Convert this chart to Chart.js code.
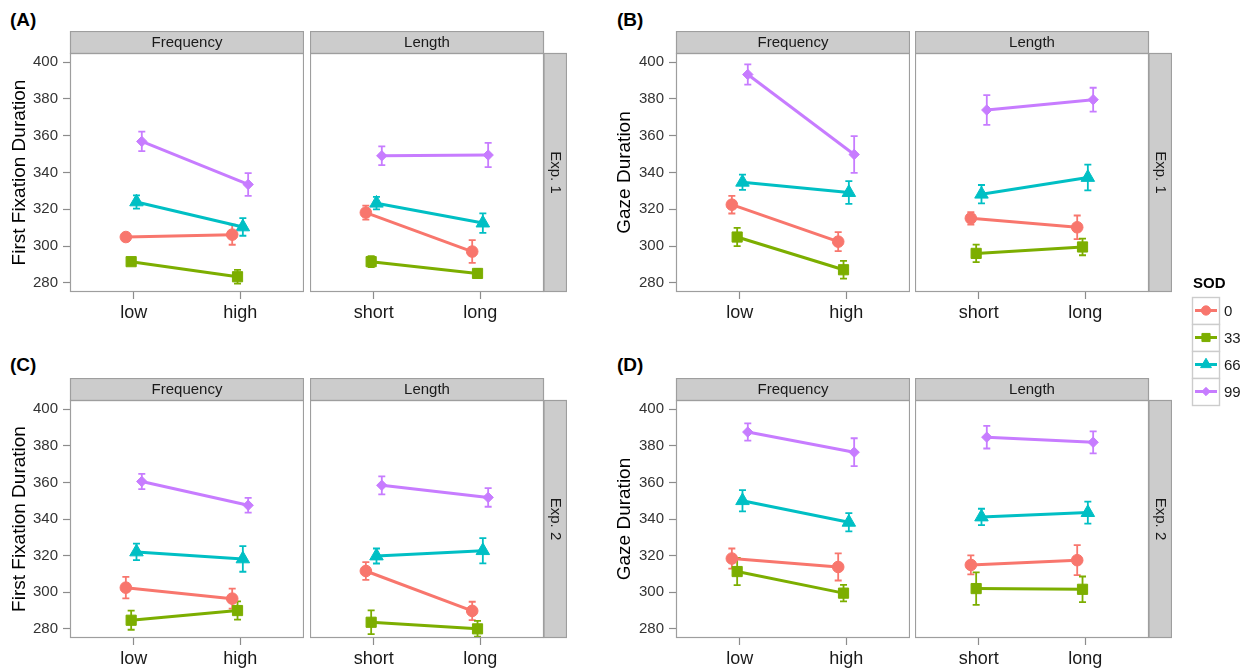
<!DOCTYPE html>
<html>
<head>
<meta charset="utf-8">
<title>SOD effects on first fixation and gaze durations</title>
<script src="https://cdn.jsdelivr.net/npm/chart.js@4.4.1/dist/chart.umd.min.js"></script>
<style>
  body { margin: 0; background: #fff; }
  #page { position: relative; width: 1248px; height: 670px; overflow: hidden; font-family: "Liberation Sans", Arial, sans-serif; }
  #page canvas { position: absolute; }
  .tag { position: absolute; font-weight: bold; font-size: 19px; color: #000; }
</style>
</head>
<body>
<div id="page">
  <div class="tag" style="left:10px;top:9px">(A)</div>
  <div class="tag" style="left:617px;top:9px">(B)</div>
  <div class="tag" style="left:10px;top:354px">(C)</div>
  <div class="tag" style="left:617px;top:354px">(D)</div>
</div>
<script>
// SOD groups (legend order)
const SOD = ['0', '33', '66', '99'];
const SOD_COLORS = ['#F8766D', '#7CAE00', '#00BFC4', '#C77CFF'];
const SOD_SHAPES = ['circle', 'rect', 'triangle', 'rectRot'];
const SOD_RADIUS = [5.8, 7.2, 7.8, 5.2];
const DODGE = [-0.075, -0.025, 0.025, 0.075];

const freqLevels = ['low', 'high'];
const lengthLevels = ['short', 'long'];
const yTicks = [280, 300, 320, 340, 360, 380, 400];

// (A) Exp. 1, first fixation duration — rows are SOD 0, 33, 66, 99
const ffdExp1Freq   = [[304.9, 306.2], [291.5, 283.3], [324.0, 310.4], [356.9, 333.5]];
const ffdExp1FreqSe = [[1.8, 5.5], [1.8, 3.7], [3.6, 4.8], [5.3, 6.2]];
const ffdExp1Len    = [[318.2, 297.0], [291.5, 285.1], [323.3, 312.5], [349.1, 349.5]];
const ffdExp1LenSe  = [[3.8, 6.2], [3.0, 2.5], [3.4, 5.3], [5.1, 6.6]];

// (B) Exp. 1, gaze duration
const gdExp1Freq   = [[322.5, 302.4], [304.9, 287.1], [334.7, 329.1], [393.3, 349.8]];
const gdExp1FreqSe = [[4.8, 5.2], [5.0, 4.8], [4.1, 6.2], [5.5, 10.0]];
const gdExp1Len    = [[315.1, 310.2], [296.0, 299.5], [328.2, 337.3], [374.0, 379.6]];
const gdExp1LenSe  = [[3.4, 6.4], [4.8, 4.5], [5.0, 7.0], [8.1, 6.5]];

// (C) Exp. 2, first fixation duration
const ffdExp2Freq   = [[302.5, 296.5], [284.7, 290.0], [322.0, 318.2], [360.5, 347.5]];
const ffdExp2FreqSe = [[5.9, 5.5], [5.2, 5.0], [4.5, 7.0], [4.2, 4.0]];
const ffdExp2Len    = [[311.6, 289.8], [283.6, 280.0], [319.8, 322.7], [358.4, 351.8]];
const ffdExp2LenSe  = [[4.8, 5.0], [6.5, 4.3], [4.1, 6.9], [4.9, 5.1]];

// (D) Exp. 2, gaze duration
const gdExp2Freq   = [[318.4, 313.8], [311.3, 299.5], [350.0, 338.2], [387.5, 376.5]];
const gdExp2FreqSe = [[5.5, 7.4], [7.4, 4.5], [5.8, 5.0], [4.7, 7.6]];
const gdExp2Len    = [[314.9, 317.5], [302.0, 301.6], [341.1, 343.5], [384.7, 381.9]];
const gdExp2LenSe  = [[5.2, 8.2], [8.9, 7.0], [4.5, 6.0], [6.2, 6.0]];

const FONT = '"Liberation Sans", Arial, sans-serif';
const STRIP_H = 22;
const SIDE_W = 23;
const PLOT_W = 234;
const XAXIS_H = 32;

// error bars drawn under the lines and points
const errorBars = {
    id: 'errorBars',
    beforeDatasetsDraw(chart) {
        const ctx = chart.ctx;
        const y = chart.scales.y;
        chart.data.datasets.forEach((ds, i) => {
            const meta = chart.getDatasetMeta(i);
            ctx.save();
            ctx.strokeStyle = ds.borderColor;
            ctx.lineWidth = 1.8;
            meta.data.forEach((pt, j) => {
                const m = ds.data[j].y, e = ds.errors[j];
                const top = y.getPixelForValue(m + e);
                const bot = y.getPixelForValue(m - e);
                ctx.beginPath();
                ctx.moveTo(pt.x, top); ctx.lineTo(pt.x, bot);
                ctx.moveTo(pt.x - 3.5, top); ctx.lineTo(pt.x + 3.5, top);
                ctx.moveTo(pt.x - 3.5, bot); ctx.lineTo(pt.x + 3.5, bot);
                ctx.stroke();
            });
            ctx.restore();
        });
    }
};

// facet strips and panel border (ggplot style)
const facetFrame = {
    id: 'facetFrame',
    beforeDraw(chart, args, opts) {
        const { ctx, chartArea: a } = chart;
        const w = a.right - a.left, h = a.bottom - a.top;
        ctx.save();
        ctx.lineWidth = 1.2;
        ctx.strokeStyle = '#9E9E9E';
        ctx.fillStyle = '#CCCCCC';
        ctx.fillRect(a.left, a.top - STRIP_H, w, STRIP_H);
        ctx.strokeRect(a.left + 0.5, a.top - STRIP_H + 0.5, w - 1, STRIP_H);
        ctx.fillStyle = '#1A1A1A';
        ctx.font = '15px ' + FONT;
        ctx.textAlign = 'center';
        ctx.textBaseline = 'middle';
        ctx.fillText(opts.strip, a.left + w / 2, a.top - STRIP_H / 2 + 1);
        if (opts.side) {
            ctx.fillStyle = '#CCCCCC';
            ctx.fillRect(a.right, a.top, SIDE_W, h);
            ctx.strokeRect(a.right, a.top + 0.5, SIDE_W - 0.5, h - 1);
            ctx.translate(a.right + SIDE_W / 2, a.top + h / 2);
            ctx.rotate(Math.PI / 2);
            ctx.fillStyle = '#1A1A1A';
            ctx.fillText(opts.side, 0, 0);
        }
        ctx.restore();
    },
    afterDraw(chart) {
        const { ctx, chartArea: a } = chart;
        ctx.save();
        ctx.lineWidth = 1.2;
        ctx.strokeStyle = '#9E9E9E';
        ctx.strokeRect(a.left + 0.5, a.top + 0.5, a.right - a.left - 1, a.bottom - a.top - 1);
        ctx.restore();
    }
};

function buildDatasets(means, errs) {
    return SOD.map((lvl, k) => ({
        label: lvl,
        data: means[k].map((m, j) => ({ x: j + 1 + DODGE[k], y: m })),
        errors: errs[k],
        borderColor: SOD_COLORS[k],
        backgroundColor: SOD_COLORS[k],
        pointBackgroundColor: SOD_COLORS[k],
        pointBorderColor: SOD_COLORS[k],
        pointStyle: SOD_SHAPES[k],
        pointRadius: SOD_RADIUS[k],
        pointBorderWidth: 1,
        borderWidth: 3,
        tension: 0
    }));
}

const facets = [
    { left: 0,   top: 31,  plotH: 239, axisW: 70, titlePad: 8.6,  title: 'First Fixation Duration', strip: 'Frequency', cats: freqLevels,   means: ffdExp1Freq, errs: ffdExp1FreqSe },
    { left: 310, top: 31,  plotH: 239, strip: 'Length', side: 'Exp. 1', cats: lengthLevels, means: ffdExp1Len, errs: ffdExp1LenSe },
    { left: 600, top: 31,  plotH: 239, axisW: 76, titlePad: 13.6, title: 'Gaze Duration', strip: 'Frequency', cats: freqLevels,   means: gdExp1Freq, errs: gdExp1FreqSe },
    { left: 915, top: 31,  plotH: 239, strip: 'Length', side: 'Exp. 1', cats: lengthLevels, means: gdExp1Len, errs: gdExp1LenSe },
    { left: 0,   top: 378, plotH: 238, axisW: 70, titlePad: 8.6,  title: 'First Fixation Duration', strip: 'Frequency', cats: freqLevels,   means: ffdExp2Freq, errs: ffdExp2FreqSe },
    { left: 310, top: 378, plotH: 238, strip: 'Length', side: 'Exp. 2', cats: lengthLevels, means: ffdExp2Len, errs: ffdExp2LenSe },
    { left: 600, top: 378, plotH: 238, axisW: 76, titlePad: 13.6, title: 'Gaze Duration', strip: 'Frequency', cats: freqLevels,   means: gdExp2Freq, errs: gdExp2FreqSe },
    { left: 915, top: 378, plotH: 238, strip: 'Length', side: 'Exp. 2', cats: lengthLevels, means: gdExp2Len, errs: gdExp2LenSe }
];

function addCanvas(left, top, w, h) {
    const c = document.createElement('canvas');
    c.width = w; c.height = h;
    c.style.left = left + 'px'; c.style.top = top + 'px';
    c.style.width = w + 'px'; c.style.height = h + 'px';
    document.getElementById('page').appendChild(c);
    return c;
}

facets.forEach(f => {
    const axisW = f.axisW || 0;
    const sideW = f.side ? SIDE_W : 0;
    const canvas = addCanvas(f.left, f.top, axisW + PLOT_W + sideW, STRIP_H + f.plotH + XAXIS_H);
    new Chart(canvas, {
        type: 'line',
        data: { datasets: buildDatasets(f.means, f.errs) },
        options: {
            responsive: false,
            animation: false,
            layout: { autoPadding: false, padding: { top: STRIP_H, right: sideW, left: 0, bottom: 0 } },
            plugins: {
                legend: { display: false },
                tooltip: { enabled: false },
                facetFrame: { strip: f.strip, side: f.side }
            },
            scales: {
                x: {
                    type: 'linear', min: 0.4, max: 2.6,
                    afterBuildTicks: s => { s.ticks = [1, 2].map(v => ({ value: v })); },
                    afterFit: s => {
                        s.height = XAXIS_H;
                        s.paddingLeft = 0;
                        s.paddingRight = 0;
                    },
                    border: { display: false },
                    grid: { drawOnChartArea: false, tickLength: 7, tickColor: '#8C8C8C', tickWidth: 1.2 },
                    ticks: {
                        padding: 3, maxRotation: 0, color: '#1A1A1A',
                        font: { family: FONT, size: 18 },
                        callback: v => f.cats[Math.round(v) - 1]
                    }
                },
                y: {
                    display: !!f.axisW,
                    min: 275, max: 405,
                    afterBuildTicks: s => { s.ticks = yTicks.map(v => ({ value: v })); },
                    afterFit: s => { if (f.axisW) s.width = f.axisW; },
                    border: { display: false },
                    grid: { drawOnChartArea: false, tickLength: 7, tickColor: '#8C8C8C', tickWidth: 1.2 },
                    ticks: { padding: 5, color: '#333333', font: { family: FONT, size: 15 } },
                    title: {
                        display: !!f.title, text: f.title || '', color: '#000',
                        font: { family: FONT, size: 19 },
                        padding: { top: f.titlePad || 0, bottom: 0 }
                    }
                }
            }
        },
        plugins: [facetFrame, errorBars]
    });
});

// legend for SOD
const legendDraw = {
    id: 'legendDraw',
    afterDraw(chart) {
        const ctx = chart.ctx;
        ctx.save();
        ctx.fillStyle = '#000';
        ctx.font = 'bold 15px ' + FONT;
        ctx.textBaseline = 'middle';
        ctx.textAlign = 'left';
        ctx.fillText('SOD', 8, 14);
        chart.data.datasets.forEach((ds, i) => {
            const y0 = 27 + i * 27;
            ctx.fillStyle = '#FFFFFF';
            ctx.fillRect(7, y0, 28, 27);
            ctx.strokeStyle = '#CCCCCC';
            ctx.lineWidth = 1.4;
            ctx.strokeRect(7.5, y0 + 0.5, 27, 27);
            const cy = y0 + 13.5;
            ctx.strokeStyle = ds.borderColor;
            ctx.lineWidth = 3;
            ctx.beginPath();
            ctx.moveTo(10, cy); ctx.lineTo(32, cy);
            ctx.stroke();
            ctx.fillStyle = ds.borderColor;
            ctx.lineWidth = 1;
            Chart.helpers.drawPoint(ctx, { pointStyle: ds.pointStyle, radius: ds.pointRadius * 0.8, rotation: 0, borderWidth: 1 }, 21, cy);
            ctx.fillStyle = '#1A1A1A';
            ctx.font = '15px ' + FONT;
            ctx.fillText(ds.label, 39, cy + 1);
        });
        ctx.restore();
    }
};

new Chart(addCanvas(1185, 270, 63, 140), {
    type: 'line',
    data: {
        datasets: SOD.map((lvl, k) => ({
            label: lvl, data: [], borderColor: SOD_COLORS[k],
            pointStyle: SOD_SHAPES[k], pointRadius: SOD_RADIUS[k]
        }))
    },
    options: {
        responsive: false,
        animation: false,
        plugins: { legend: { display: false }, tooltip: { enabled: false } },
        scales: { x: { display: false }, y: { display: false } }
    },
    plugins: [legendDraw]
});
</script>
</body>
</html>
